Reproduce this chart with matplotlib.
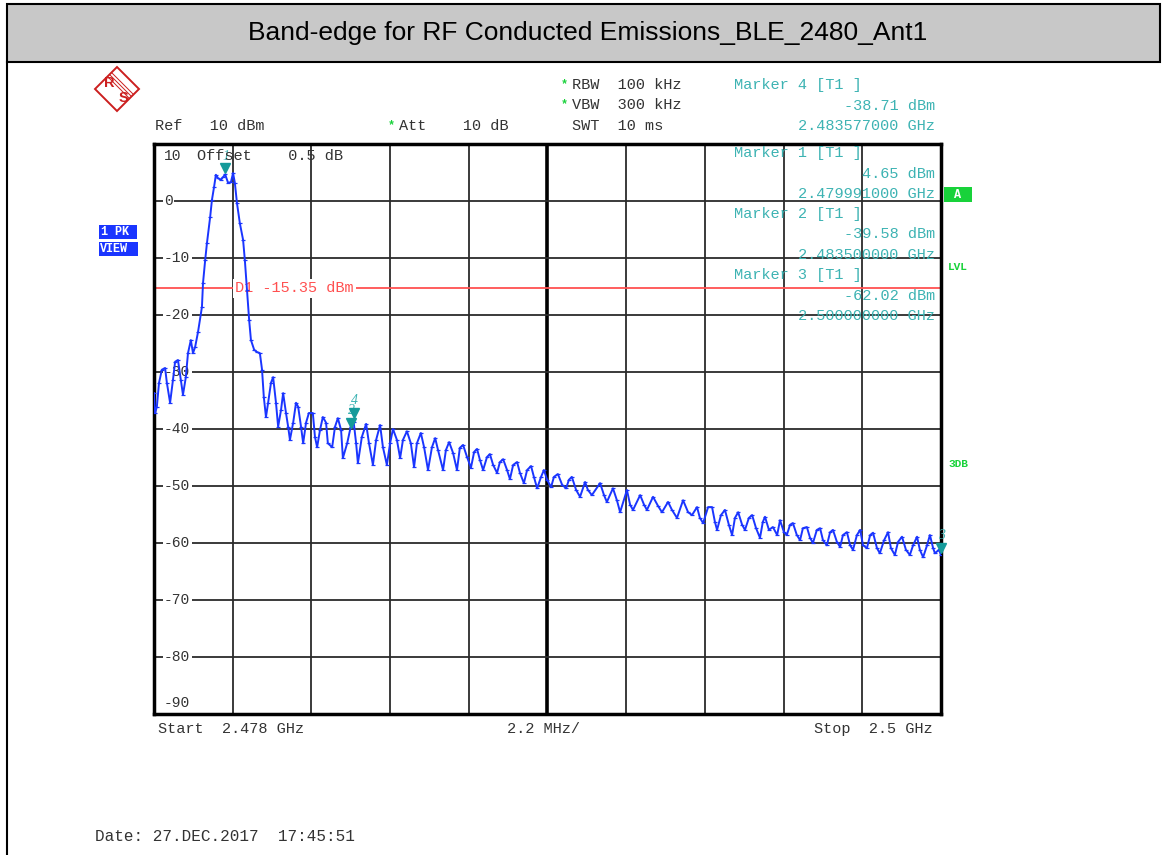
import matplotlib
matplotlib.use("Agg")
import matplotlib.pyplot as plt
import matplotlib.transforms as mtransforms
from matplotlib.patches import Rectangle, Polygon
from matplotlib.lines import Line2D

W, H = 1164, 855

# trace: frequency (MHz) and level (dBm)
freq_mhz = [
    2478.00, 2478.03, 2478.08, 2478.14, 2478.22, 2478.31, 2478.36, 2478.45, 2478.53, 2478.59,
    2478.67, 2478.75, 2478.81, 2478.89, 2478.95, 2479.03, 2479.09, 2479.15, 2479.23, 2479.34,
    2479.37, 2479.43, 2479.48, 2479.57, 2479.62, 2479.68, 2479.73, 2479.79, 2479.87, 2479.93,
    2479.99, 2480.07, 2480.15, 2480.21, 2480.26, 2480.32, 2480.40, 2480.49, 2480.54, 2480.60,
    2480.66, 2480.71, 2480.80, 2480.88, 2480.96, 2481.02, 2481.07, 2481.13, 2481.19, 2481.27,
    2481.33, 2481.41, 2481.47, 2481.55, 2481.61, 2481.69, 2481.75, 2481.80, 2481.89, 2481.97,
    2482.03, 2482.11, 2482.17, 2482.25, 2482.33, 2482.44, 2482.50, 2482.56, 2482.64, 2482.72,
    2482.81, 2482.86, 2482.98, 2483.06, 2483.14, 2483.23, 2483.28, 2483.40, 2483.50, 2483.58,
    2483.65, 2483.70, 2483.81, 2483.93, 2484.01, 2484.12, 2484.21, 2484.32, 2484.40, 2484.51,
    2484.60, 2484.68, 2484.79, 2484.88, 2484.96, 2485.07, 2485.18, 2485.27, 2485.35, 2485.46,
    2485.55, 2485.66, 2485.77, 2485.86, 2485.94, 2486.08, 2486.16, 2486.25, 2486.36, 2486.47,
    2486.55, 2486.64, 2486.75, 2486.86, 2486.95, 2487.03, 2487.11, 2487.20, 2487.31, 2487.39,
    2487.48, 2487.59, 2487.67, 2487.76, 2487.87, 2487.95, 2488.04, 2488.15, 2488.23, 2488.34,
    2488.43, 2488.54, 2488.62, 2488.71, 2488.82, 2488.90, 2488.99, 2489.10, 2489.18, 2489.29,
    2489.41, 2489.52, 2489.60, 2489.68, 2489.80, 2489.91, 2490.05, 2490.13, 2490.24, 2490.47,
    2490.58, 2490.66, 2490.83, 2490.94, 2491.03, 2491.22, 2491.31, 2491.39, 2491.59, 2491.70,
    2491.78, 2491.95, 2492.09, 2492.20, 2492.37, 2492.48, 2492.62, 2492.79, 2492.93, 2493.04,
    2493.18, 2493.26, 2493.35, 2493.49, 2493.60, 2493.68, 2493.74, 2493.85, 2493.96, 2494.07,
    2494.16, 2494.24, 2494.33, 2494.44, 2494.52, 2494.63, 2494.72, 2494.83, 2494.94, 2495.02,
    2495.08, 2495.19, 2495.30, 2495.42, 2495.50, 2495.61, 2495.69, 2495.78, 2495.86, 2495.97,
    2496.06, 2496.14, 2496.25, 2496.34, 2496.42, 2496.53, 2496.62, 2496.70, 2496.81, 2496.90,
    2496.98, 2497.09, 2497.18, 2497.26, 2497.37, 2497.46, 2497.54, 2497.65, 2497.74, 2497.82,
    2497.93, 2498.02, 2498.10, 2498.21, 2498.29, 2498.41, 2498.52, 2498.60, 2498.71, 2498.80,
    2498.91, 2499.02, 2499.13, 2499.22, 2499.33, 2499.41, 2499.50, 2499.61, 2499.69, 2499.78,
    2499.83, 2499.94, 2500.00,
]
level_dbm = [
    -33.7, -37.2, -36.1, -31.9, -29.6, -29.3, -31.9, -35.4, -31.4, -28.2,
    -27.9, -31.4, -34.0, -30.9, -26.7, -24.4, -26.7, -25.6, -23.0, -18.6,
    -14.4, -10.4, -7.4, -2.8, 0.2, 2.5, 4.6, 4.0, 3.7, 4.2,
    4.65, 3.2, 3.3, 4.9, 3.2, -0.4, -3.9, -6.8, -10.4, -15.6,
    -20.9, -24.4, -26.1, -26.5, -26.7, -29.6, -34.4, -37.9, -35.4, -31.9,
    -30.9, -35.4, -39.6, -36.7, -33.7, -37.2, -39.6, -41.9, -38.9, -35.4,
    -36.1, -39.6, -42.5, -38.9, -37.2, -37.2, -41.4, -43.2, -40.2, -37.9,
    -38.9, -42.5, -43.2, -39.6, -38.1, -40.2, -45.1, -42.5, -39.6, -38.7,
    -42.5, -46.0, -41.4, -39.1, -42.5, -46.3, -41.9, -39.3, -43.2, -46.3,
    -42.5, -40.0, -41.9, -45.1, -41.9, -40.4, -42.5, -46.7, -42.5, -40.7,
    -43.2, -47.2, -43.2, -41.6, -43.7, -47.2, -43.7, -42.3, -44.2, -47.2,
    -43.3, -42.8, -44.9, -46.8, -44.0, -43.5, -45.4, -47.2, -44.9, -44.4,
    -46.3, -47.7, -45.8, -45.3, -47.2, -48.8, -46.3, -45.8, -47.7, -49.5,
    -47.2, -46.5, -48.4, -50.4, -48.4, -47.2, -48.9, -50.2, -48.4, -47.9,
    -49.8, -50.4, -48.9, -48.4, -50.7, -51.9, -49.3, -50.7, -51.6, -49.5,
    -51.6, -52.8, -50.4, -52.5, -54.6, -50.7, -53.3, -54.2, -51.6, -53.3,
    -54.2, -51.9, -53.5, -54.6, -52.8, -54.2, -55.6, -52.5, -54.6, -55.1,
    -53.7, -55.6, -56.5, -53.7, -53.7, -56.3, -57.7, -55.1, -54.2, -56.8,
    -58.6, -55.6, -54.6, -56.8, -57.7, -55.6, -55.1, -57.4, -59.1, -56.3,
    -55.4, -57.7, -57.2, -58.6, -56.0, -58.1, -58.6, -56.8, -56.5, -58.6,
    -59.5, -57.4, -57.2, -59.1, -60.0, -57.7, -57.4, -59.5, -60.4, -58.1,
    -57.7, -59.8, -60.7, -58.6, -58.1, -60.4, -61.2, -58.6, -57.7, -60.4,
    -60.9, -58.6, -58.2, -60.9, -61.8, -59.5, -58.1, -60.9, -62.1, -59.8,
    -58.9, -61.2, -62.1, -60.4, -58.9, -61.2, -62.5, -60.4, -58.6, -60.9,
    -61.8, -61.2, -62.02,
]

marker_ids = ["1", "2", "3", "4"]
marker_freq = [2479.991, 2483.500, 2500.000, 2483.577]
marker_level = [4.65, -39.58, -62.02, -38.71]
marker_freq_text = ["2.479991000 GHz", "2.483500000 GHz", "2.500000000 GHz", "2.483577000 GHz"]

display_line = -15.35
start_mhz, stop_mhz, span_div = 2478.0, 2500.0, 2.2
y_top, y_bottom = 10, -90
y_labels = [10, 0, -10, -20, -30, -40, -50, -60, -70, -80, -90]

MONO = "Liberation Mono"
GREY = "#333333"
TEAL = "#3db3b3"
TEAL_DARK = "#159a9a"
RED = "#ff5050"
LOGO_RED = "#cc1f1f"
GREEN = "#18d23a"
BLUE = "#1a35ff"


def fx(x):
    return x / W


def fy(y):
    return 1 - y / H


def box(x0, y0, x1, y1, color):
    fig.patches.append(Rectangle((fx(x0), fy(y1)), fx(x1) - fx(x0), fy(y0) - fy(y1),
                                 transform=fig.transFigure, facecolor=color,
                                 edgecolor="none", zorder=1))


fig = plt.figure(figsize=(W / 100, H / 100), dpi=100)

# title band and page border
fig.patches.append(Rectangle((fx(7), fy(62)), fx(1160) - fx(7), fy(4) - fy(62),
                             transform=fig.transFigure, facecolor="#c8c8c8",
                             edgecolor="black", linewidth=1.5))
fig.lines.append(Line2D([fx(7), fx(7)], [fy(62), 0], transform=fig.transFigure,
                        color="black", linewidth=1.5))
fig.text(fx(588), fy(33), "Band-edge for RF Conducted Emissions_BLE_2480_Ant1",
         family="Liberation Sans", fontsize=19, ha="center", va="center")

# R&S logo
fig.patches.append(Polygon([(fx(117), fy(67)), (fx(139), fy(89)), (fx(117), fy(111)), (fx(95), fy(89))],
                           closed=True, transform=fig.transFigure, fill=False,
                           edgecolor=LOGO_RED, linewidth=1.4))
for d in (-2, 0, 2):
    fig.lines.append(Line2D([fx(110 + d), fx(131 + d)], [fy(75 - d), fy(96 - d)],
                            transform=fig.transFigure, color=LOGO_RED, linewidth=0.7))
fig.text(fx(109), fy(83), "R", color=LOGO_RED, fontsize=10.5, ha="center", va="center",
         family="Liberation Sans", weight="bold")
fig.text(fx(123), fy(98), "S", color=LOGO_RED, fontsize=10.5, ha="center", va="center",
         family="Liberation Sans", weight="bold")

# instrument header
fig.text(fx(155), fy(126), "Ref   10 dBm", family=MONO, fontsize=11, color=GREY, va="center")
fig.text(fx(388), fy(125), "*", family=MONO, fontsize=8.5, color=GREEN, va="center", weight="bold")
fig.text(fx(399), fy(126), "Att    10 dB", family=MONO, fontsize=11, color=GREY, va="center")
fig.text(fx(561), fy(84), "*", family=MONO, fontsize=8.5, color=GREEN, va="center", weight="bold")
fig.text(fx(572), fy(85), "RBW  100 kHz", family=MONO, fontsize=11, color=GREY, va="center")
fig.text(fx(561), fy(104), "*", family=MONO, fontsize=8.5, color=GREEN, va="center", weight="bold")
fig.text(fx(572), fy(105), "VBW  300 kHz", family=MONO, fontsize=11, color=GREY, va="center")
fig.text(fx(572), fy(126), "SWT  10 ms", family=MONO, fontsize=11, color=GREY, va="center")

# marker readout block (order on screen: 4, 1, 2, 3)
rows = [(3, 85), (0, 153), (1, 214), (2, 275)]
for idx, ytop in rows:
    fig.text(fx(734), fy(ytop), "Marker %s [T1 ]" % marker_ids[idx], family=MONO,
             fontsize=11, color=TEAL, va="center", zorder=5)
    fig.text(fx(935), fy(ytop + 20.5), "%.2f dBm" % marker_level[idx], family=MONO,
             fontsize=11, color=TEAL, va="center", ha="right", zorder=5)
    fig.text(fx(935), fy(ytop + 41), marker_freq_text[idx], family=MONO,
             fontsize=11, color=TEAL, va="center", ha="right", zorder=5)

# side boxes
box(944, 187, 972, 202, GREEN)
fig.text(fx(958), fy(195), "A", family=MONO, fontsize=8.5, color="white", ha="center",
         va="center", weight="bold")
fig.text(fx(948), fy(267), "LVL", family=MONO, fontsize=8, color=GREEN, va="center", weight="bold")
fig.text(fx(948), fy(464), "3DB", family=MONO, fontsize=8, color=GREEN, va="center", weight="bold")
box(99, 225, 137, 239, BLUE)
fig.text(fx(101), fy(232), "1 PK", family=MONO, fontsize=8.5, color="white", va="center",
         weight="bold")
box(99, 242, 138, 256, BLUE)
fig.text(fx(100), fy(249), "VIEW", family=MONO, fontsize=8.5, color="white", va="center",
         weight="bold")

# plot area
ax = fig.add_axes([fx(154), fy(714), fx(941) - fx(154), fy(144) - fy(714)])
ax.set_xlim(start_mhz, stop_mhz)
ax.set_ylim(y_bottom, y_top)
ax.set_xticks([])
ax.set_yticks([])
for s in ax.spines.values():
    s.set_linewidth(2.5)
    s.set_color("black")

for i in range(1, 10):
    ax.axvline(start_mhz + span_div * i, color="black" if i == 5 else "#2b2b2b",
               linewidth=2.6 if i == 5 else 1.3, zorder=1)
for v in y_labels[1:-1]:
    ax.axhline(v, color="#2b2b2b", linewidth=1.3, zorder=1)

for v in y_labels:
    dy = 0
    if v == y_top:
        dy = -12
    elif v == y_bottom:
        dy = 11
    ax.annotate(str(v), xy=(0, v), xycoords=("axes fraction", "data"), xytext=(10, dy),
                textcoords="offset pixels", va="center", ha="left", family=MONO,
                fontsize=10.5, color=GREY, zorder=3,
                bbox=dict(boxstyle="square,pad=0.1", fc="white", ec="none"))

ax.text(0.055, 1.0, "Offset    0.5 dB", transform=mtransforms.offset_copy(
    ax.transAxes, fig=fig, x=0, y=-12, units="dots"),
    family=MONO, fontsize=11, color=GREY, va="center", zorder=7)

# display line D1
ax.axhline(display_line, color=RED, linewidth=1.3, zorder=2)
ax.annotate("D1 -15.35 dBm", xy=(0.103, display_line), xycoords=("axes fraction", "data"),
            va="center", ha="left", family=MONO, fontsize=11, color=RED, zorder=3,
            bbox=dict(boxstyle="square,pad=0.15", fc="white", ec="none"))

# trace
ax.plot(freq_mhz, level_dbm, color=BLUE, linewidth=1.4, marker="_", markersize=3.5,
        markeredgewidth=0.9, zorder=4)

# marker symbols
tri_offsets = {"1": 6, "2": 4, "3": 7, "4": 9}
for mid, f, l in zip(marker_ids, marker_freq, marker_level):
    off = mtransforms.offset_copy(ax.transData, fig=fig, x=0, y=tri_offsets[mid], units="dots")
    ax.plot([f], [l], marker="v", color=TEAL_DARK, markersize=7, transform=off,
            zorder=6, clip_on=False)
    off_t = mtransforms.offset_copy(ax.transData, fig=fig, x=1, y=tri_offsets[mid] + 12,
                                    units="dots")
    ax.text(f, l, mid, transform=off_t, color=TEAL, fontsize=10, ha="center", va="center",
            family="Liberation Serif", style="italic", zorder=6, clip_on=False)

# bottom annotations
fig.text(fx(158), fy(729), "Start  2.478 GHz", family=MONO, fontsize=11, color=GREY, va="center")
fig.text(fx(507), fy(729), "2.2 MHz/", family=MONO, fontsize=11, color=GREY, va="center")
fig.text(fx(933), fy(729), "Stop  2.5 GHz", family=MONO, fontsize=11, color=GREY, va="center",
         ha="right")
fig.text(fx(95), fy(836), "Date: 27.DEC.2017  17:45:51", family=MONO, fontsize=11.5,
         color=GREY, va="center")

fig.savefig("out.png", dpi=100)
